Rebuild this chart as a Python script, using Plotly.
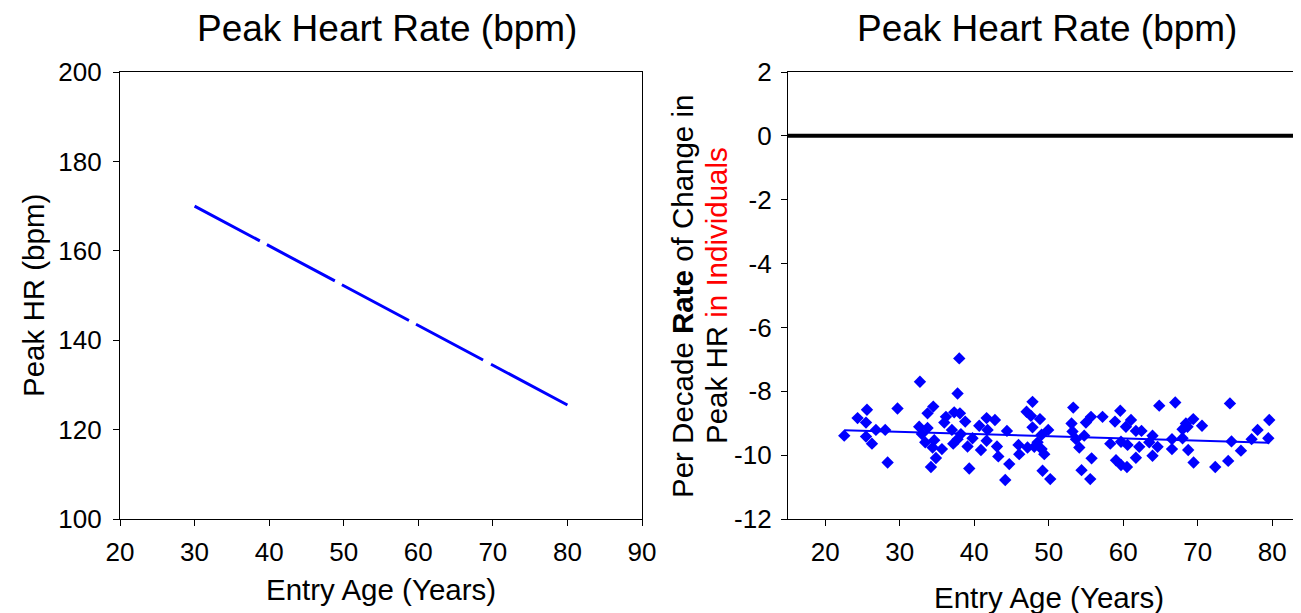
import plotly.graph_objects as go

# ---- Data ----
line_age = [30, 80]
line_hr = [170.0, 125.5]

scatter_age = [22.55, 24.34, 25.6, 25.47, 25.47, 26.27, 26.8, 28.05, 28.37, 29.7,
               32.71, 32.61, 32.97, 33.73, 33.73, 34.5, 33.42, 34.41, 34.63, 35.66,
               34.86, 34.19, 37.99, 37.76, 37.31, 38.08, 36.2, 35.98, 37.0, 38.79,
               38.21, 37.76, 37.18, 39.1, 39.77, 39.33, 40.67, 41.66, 40.9, 41.66,
               41.79, 42.78, 43.05, 43.23, 44.39, 44.7, 44.16, 45.94, 46.04, 47.82,
               47.02, 47.61, 48.82, 47.82, 47.15, 48.06, 48.5, 49.04, 49.93, 49.04,
               49.4, 49.17, 50.2, 53.29, 53.06, 53.19, 53.65, 54.1, 54.76, 54.99,
               55.67, 55.75, 54.4, 55.57, 57.22, 58.26, 58.89, 59.6, 60.36, 61.04,
               59.7, 60.58, 62.15, 61.7, 62.45, 61.7, 59.03, 59.7, 60.5, 64.83,
               66.98, 63.93, 63.49, 64.61, 63.93, 66.54, 66.54, 67.96, 68.63, 69.4,
               70.57, 68.72, 69.44, 72.35, 74.09, 74.32, 74.53, 75.8, 77.23, 78.03,
               79.6, 79.47, 67.96, 68.41]
scatter_rate = [-9.39, -8.84, -8.58, -8.98, -9.42, -9.64, -9.21, -9.21, -10.23, -8.54,
                -7.70, -9.11, -9.34, -9.15, -8.69, -8.48, -9.60, -9.76, -9.53, -9.81,
                -10.09, -10.37, -6.97, -8.07, -8.66, -8.69, -8.80, -8.98, -9.21, -8.95,
                -9.34, -9.50, -9.64, -9.73, -9.47, -10.42, -9.08, -8.84, -9.84, -9.55,
                -9.21, -8.90, -9.73, -10.04, -9.24, -10.28, -10.78, -9.68, -9.97, -8.33,
                -8.64, -8.77, -8.87, -9.13, -9.76, -9.74, -9.60, -9.36, -9.21, -9.81,
                -9.97, -10.49, -10.75, -8.51, -9.01, -9.26, -9.50, -9.76, -9.39, -8.98,
                -8.80, -10.10, -10.47, -10.75, -8.80, -9.64, -8.95, -8.61, -9.11, -8.90,
                -9.58, -9.68, -9.74, -9.24, -9.24, -10.08, -10.16, -10.31, -10.37, -8.45,
                -8.35, -9.39, -9.60, -9.74, -10.02, -9.50, -9.81, -9.47, -9.11, -8.87,
                -9.08, -9.84, -10.23, -10.37, -10.18, -8.38, -9.57, -9.86, -9.50, -9.21,
                -8.90, -9.47, -9.19, -9.01]

fit_age = [22.55, 79.6]
fit_rate = [-9.22, -9.61]

left_xticks = [20, 30, 40, 50, 60, 70, 80, 90]
left_yticks = [100, 120, 140, 160, 180, 200]
right_xticks = [20, 30, 40, 50, 60, 70, 80]
right_yticks = [2, 0, -2, -4, -6, -8, -10, -12]

# page body has an 8px margin; figure is sized to fit the window
OFF = 8
W, H = 1301 - OFF, 613 - OFF
FONT = "Liberation Sans, Arial, sans-serif"
BLUE = "#0000FF"

def px(x):
    return (x - OFF) / W

def py(y):
    return 1 - (y - OFF) / H

fig = go.Figure()

fig.add_trace(go.Scatter(x=line_age, y=line_hr, mode="lines",
                         line=dict(color=BLUE, width=3,
                                   dash="74px,8px,77px,8px,76px,8px,76px,9px,200px"),
                         xaxis="x", yaxis="y", showlegend=False))

fig.add_trace(go.Scatter(x=scatter_age, y=scatter_rate, mode="markers",
                         marker=dict(symbol="diamond", size=9.5, color=BLUE,
                                     line=dict(width=0)),
                         xaxis="x2", yaxis="y2", showlegend=False))

fig.add_trace(go.Scatter(x=fit_age, y=fit_rate, mode="lines",
                         line=dict(color=BLUE, width=2),
                         xaxis="x2", yaxis="y2", showlegend=False))

ax_common = dict(showgrid=False, zeroline=False, showline=True, linecolor="black",
                 linewidth=1.3, ticks="outside", ticklen=6, tickcolor="black",
                 tickwidth=1.3, tickfont=dict(size=26, color="black", family=FONT),
                 automargin=False)

ydom = [py(519), py(72)]

def labels(vals):
    return [str(v) for v in vals]

fig.update_layout(
    width=W, height=H,
    margin=dict(l=0, r=0, t=0, b=0),
    paper_bgcolor="white", plot_bgcolor="white",
    font=dict(family=FONT, color="black"),
    xaxis=dict(ax_common, domain=[px(120), px(642)], range=[20, 90],
               tickvals=left_xticks, ticktext=labels(left_xticks), mirror=True,
               anchor="y", ticklabelstandoff=4),
    yaxis=dict(ax_common, domain=ydom, range=[100, 200],
               tickvals=left_yticks, ticktext=labels(left_yticks), mirror=True,
               anchor="x", ticklabelstandoff=6),
    xaxis2=dict(ax_common, domain=[px(788), 1.0], range=[15, 83.86],
                tickvals=right_xticks, ticktext=labels(right_xticks), mirror=True,
                anchor="y2", ticklabelstandoff=4),
    yaxis2=dict(ax_common, domain=ydom, range=[-12, 2],
                tickvals=right_yticks, ticktext=labels(right_yticks), mirror=False,
                anchor="x2", ticklabelstandoff=4),
)

fig.add_shape(type="line", xref="x2 domain", yref="y2", x0=0, x1=1, y0=0, y1=0,
              line=dict(color="black", width=4))

def ann(text, x, y, size, angle=0):
    fig.add_annotation(text=text, x=px(x), y=py(y), xref="paper", yref="paper",
                       xanchor="center", yanchor="middle", showarrow=False,
                       textangle=angle, font=dict(size=size, color="black", family=FONT))

ann("Peak Heart Rate (bpm)", 386.5, 29, 37)
ann("Peak Heart Rate (bpm)", 1047, 29, 37)
ann("Entry Age (Years)", 380.5, 589, 29.5)
ann("Entry Age (Years)", 1049, 597, 29.5)
ann("Peak HR (bpm)", 33, 296, 29.5, -90)
ann("Per Decade <b>Rate</b> of Change in", 682, 297, 29.5, -90)
ann("Peak HR <span style='color:red'>in Individuals</span>", 716, 296, 29.5, -90)

fig.write_html("out.html")
